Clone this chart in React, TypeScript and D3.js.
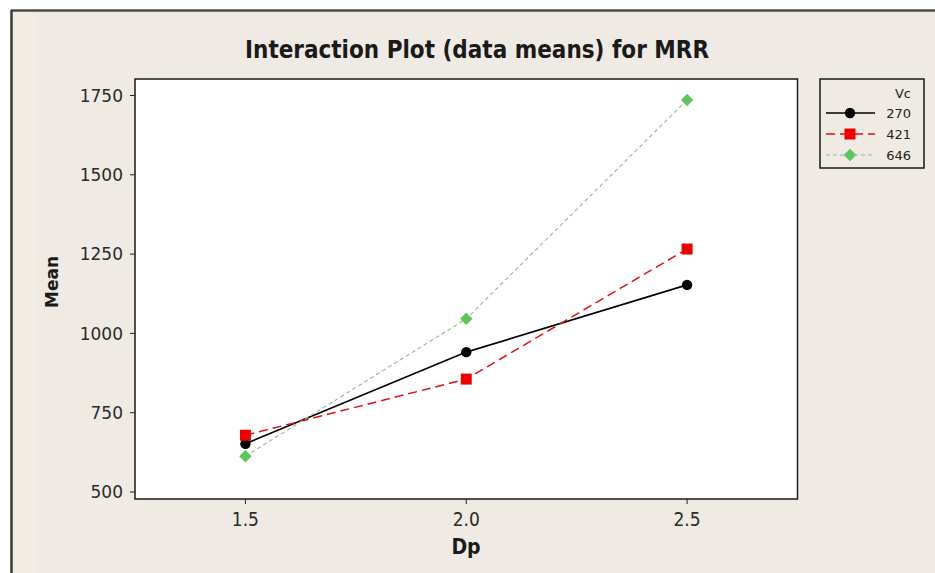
import React from "react";
import * as d3 from "d3";

const categories = [1.5, 2.0, 2.5];
const seriesNames = ["270", "421", "646"];
const vc270 = [652, 941, 1153];
const vc421 = [679, 856, 1266];
const vc646 = [613, 1046, 1736];
const yTicks = [500, 750, 1000, 1250, 1500, 1750];
const xTicks = [1.5, 2.0, 2.5];

const W = 935;
const H = 573;
const BG = "#EFEAE3";

const x = d3.scaleLinear().domain([1.25, 2.75]).range([135, 797.5]);
const y = d3.scaleLinear().domain([478, 1802]).range([499, 79]);

const series = [
  { name: seriesNames[0], values: vc270, color: "#000000", lineColor: "#000000", dash: "", width: 1.6, marker: "circle" },
  { name: seriesNames[1], values: vc421, color: "#EE0000", lineColor: "#E01010", dash: "9,5", width: 1.5, marker: "square" },
  { name: seriesNames[2], values: vc646, color: "#5CC55C", lineColor: "#8FB98F", dash: "4,3", width: 1.1, marker: "diamond" },
];

function Marker({ type, cx, cy, color }: { type: string; cx: number; cy: number; color: string }) {
  if (type === "circle") return <circle cx={cx} cy={cy} r={5.2} fill={color} />;
  if (type === "square") return <rect x={cx - 5.5} y={cy - 5.5} width={11} height={11} fill={color} />;
  const s = 6.2;
  return <path d={`M${cx},${cy - s}L${cx + s},${cy}L${cx},${cy + s}L${cx - s},${cy}Z`} fill={color} />;
}

export default function App() {
  const line = d3
    .line<number>()
    .x((_, i) => x(categories[i]))
    .y((d) => y(d));
  const [x0, x1] = x.range();
  const [yb, yt] = y.range();
  const legendY = [113, 134, 155];
  return (
    <svg width={W} height={H} style={{ position: "absolute", left: 0, top: 0 }}>
      <rect x={0} y={0} width={W} height={H} fill="#FFFFFF" />
      <rect x={11} y={10} width={W - 11} height={H - 10} fill={BG} />
      <rect x={13} y={12} width={22} height={H - 12} fill="#F1EDE5" />
      <line x1={11} y1={10.5} x2={W} y2={10.5} stroke="#4A4A4A" strokeWidth={2.5} />
      <line x1={11.5} y1={10} x2={11.5} y2={H} stroke="#3A3A3A" strokeWidth={2.5} />

      <text
        x={477}
        y={58}
        textAnchor="middle"
        fontFamily="Liberation Sans Narrow, DejaVu Sans Condensed"
        fontWeight="bold"
        fontSize={24}
        fill="#1a1a1a"
        textLength={464}
        lengthAdjust="spacingAndGlyphs"
      >
        Interaction Plot (data means) for MRR
      </text>

      <rect x={x0} y={yt} width={x1 - x0} height={yb - yt} fill="#FFFFFF" stroke="#1a1a1a" strokeWidth={1.5} />

      {yTicks.map((t) => (
        <g key={t}>
          <line x1={x0 - 5} x2={x0} y1={y(t)} y2={y(t)} stroke="#222" strokeWidth={1} />
          <text
            x={123}
            y={y(t)}
            dy="0.36em"
            textAnchor="end"
            fontFamily="DejaVu Sans"
            fontSize={17}
            fill="#2a2a2a"
          >
            {t}
          </text>
        </g>
      ))}
      {xTicks.map((t) => (
        <g key={t}>
          <line x1={x(t)} x2={x(t)} y1={yb} y2={yb + 5} stroke="#222" strokeWidth={1} />
          <text
            x={x(t)}
            y={526}
            textAnchor="middle"
            fontFamily="DejaVu Sans Condensed, DejaVu Sans"
            fontSize={19}
            fill="#2a2a2a"
          >
            {t.toFixed(1)}
          </text>
        </g>
      ))}

      <text
        x={466}
        y={554}
        textAnchor="middle"
        fontFamily="Liberation Sans Narrow, DejaVu Sans Condensed"
        fontWeight="bold"
        fontSize={21}
        fill="#1a1a1a"
      >
        Dp
      </text>
      <text
        transform={`translate(58,282) rotate(-90)`}
        textAnchor="middle"
        fontFamily="DejaVu Sans"
        fontWeight="bold"
        fontSize={17}
        fill="#1a1a1a"
      >
        Mean
      </text>

      {series.map((s) => (
        <g key={s.name}>
          <path
            d={line(s.values) || ""}
            fill="none"
            stroke={s.lineColor}
            strokeWidth={s.width}
            strokeDasharray={s.dash || undefined}
          />
          {s.values.map((v, i) => (
            <Marker key={i} type={s.marker} cx={x(categories[i])} cy={y(v)} color={s.color} />
          ))}
        </g>
      ))}

      <rect x={820} y={79} width={104} height={89} fill={BG} stroke="#1a1a1a" strokeWidth={1.5} />
      <text x={911} y={93} dy="0.36em" textAnchor="end" fontFamily="DejaVu Sans" fontSize={13} fill="#222">
        Vc
      </text>
      {series.map((s, i) => (
        <g key={s.name}>
          <line
            x1={826}
            x2={875}
            y1={legendY[i]}
            y2={legendY[i]}
            stroke={s.lineColor}
            strokeWidth={s.width}
            strokeDasharray={s.dash || undefined}
          />
          <Marker type={s.marker} cx={850} cy={legendY[i]} color={s.color} />
          <text x={911} y={legendY[i]} dy="0.36em" textAnchor="end" fontFamily="DejaVu Sans" fontSize={13} fill="#222">
            {s.name}
          </text>
        </g>
      ))}
    </svg>
  );
}
